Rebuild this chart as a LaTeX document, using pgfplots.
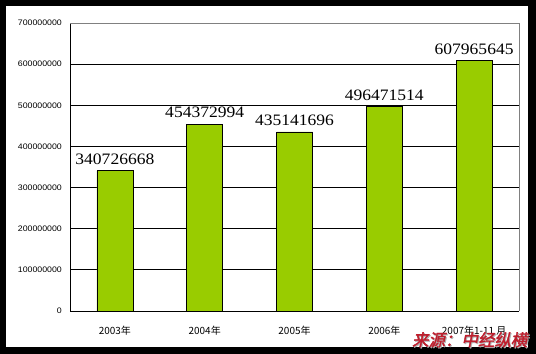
\documentclass[border=0pt]{standalone}
\usepackage{pgfplots}
\pgfplotsset{compat=1.18}
\usepackage{fontspec}
\setmainfont{Liberation Sans}
\newfontfamily\cjk{Noto Sans CJK SC}
\newfontfamily\cjkb[FakeBold=2,FakeSlant=0.2]{Noto Sans CJK SC}
\newfontfamily\lblfont[FakeStretch=1.1]{Liberation Serif}
\newfontfamily\tickfont[FakeStretch=1.1]{Liberation Sans}
\definecolor{barg}{HTML}{99CC00}
\definecolor{srcred}{RGB}{190,30,45}
\pgfplotstableread{
x y label
0 340726668 340726668
1 454372994 454372994
2 435141696 435141696
3 496471514 496471514
4 607965645 607965645
}\datatab
\begin{document}
\begin{tikzpicture}
\fill[black] (0bp,0bp) rectangle (536bp,354bp);
\fill[white] (6bp,7bp) rectangle (528bp,348bp);
\begin{axis}[
  at={(70bp,43bp)}, anchor=south west,
  scale only axis, width=449bp, height=288bp,
  xmin=-0.5, xmax=4.5, ymin=0, ymax=700000000,
  scaled y ticks=false,
  axis x line*=bottom, axis y line*=left,
  axis line style={black, line width=0.75bp},
  ymajorgrids, grid style={black, line width=0.75bp},
  ytick={0,100000000,200000000,300000000,400000000,500000000,600000000,700000000},
  yticklabels={0,100000000,200000000,300000000,400000000,500000000,600000000,700000000},
  ytick style={draw=none},
  yticklabel style={font=\tickfont\fontsize{8}{9}\selectfont, inner sep=0pt, anchor=east, xshift=-8bp},
  xtick={0,1,2,3,4},
  xticklabels={2003年,2004年,2005年,2006年,2007年1-11 月},
  xtick style={draw=none},
  minor xtick={0.5,1.5,2.5,3.5},
  minor tick length=3bp,
  minor x tick style={black, line width=0.75bp},
  xticklabel style={font=\cjk\fontsize{10}{11}\selectfont, inner sep=0pt, anchor=base, yshift=-19bp},
  ybar, bar width=36bp,
  nodes near coords,
  point meta=explicit symbolic,
  nodes near coords style={font=\lblfont\fontsize{16}{16}\selectfont, anchor=base, inner sep=0pt, yshift=6.5bp},
  clip=false,
]
\addplot[fill=barg, draw=black, line width=0.75bp] table[x=x, y=y, meta=label] {\datatab};
\draw[gray, line width=0.75bp] (rel axis cs:0,1) -- (rel axis cs:1,1) -- (rel axis cs:1,0);
\end{axis}
\node[anchor=base west, inner sep=0pt, text=gray!60, font=\cjkb\fontsize{16.5}{17}\selectfont] at (413bp,7bp) {来源：中经纵横};
\node[anchor=base west, inner sep=0pt, text=srcred, font=\cjkb\fontsize{16.5}{17}\selectfont] at (412bp,8bp) {来源：中经纵横};
\pgfresetboundingbox
\useasboundingbox (0bp,0bp) rectangle (536bp,354bp);
\end{tikzpicture}
\end{document}
